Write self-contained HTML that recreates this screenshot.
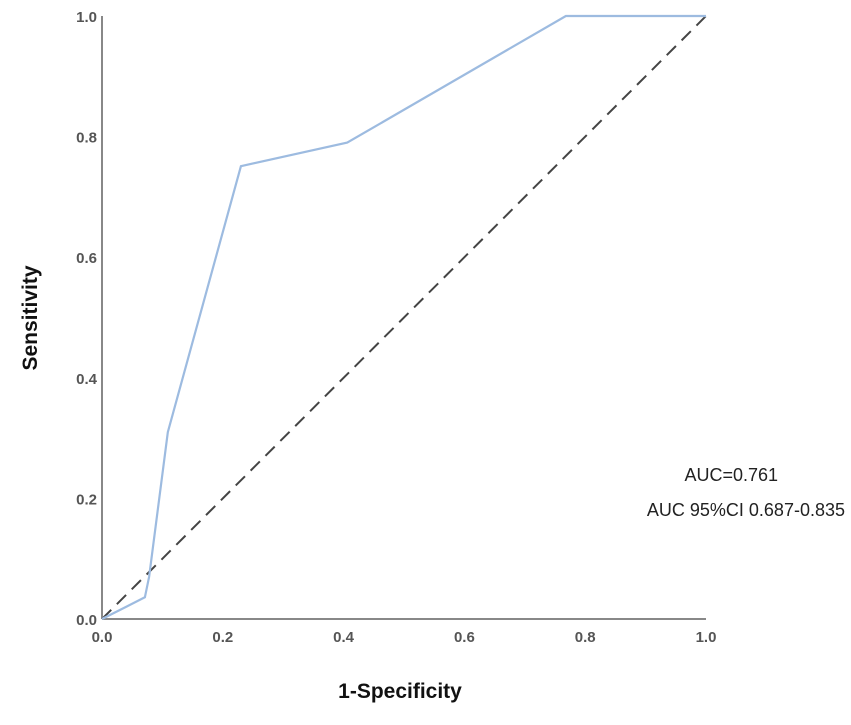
<!DOCTYPE html>
<html><head><meta charset="utf-8"><style>
body{margin:0;background:#fff;}
svg text{font-family:"Liberation Sans",sans-serif;}
</style></head><body>
<svg width="851" height="720">
<g id="g"></g>
</svg>
<script>
const fprValues=[0,0.071,0.078,0.109,0.23,0.406,0.768,1.0];
const tprValues=[0,0.036,0.07,0.31,0.751,0.79,1.0,1.0];
const ticks=[0,0.2,0.4,0.6,0.8,1.0];
const tickLabels=["0.0","0.2","0.4","0.6","0.8","1.0"];
const X0=102,X1=706,Y0=619,Y1=16;
const sx=v=>X0+v*(X1-X0), sy=v=>Y0-v*(Y0-Y1);
const g=document.getElementById('g');const NS='http://www.w3.org/2000/svg';
function mk(t,a,txt){const e=document.createElementNS(NS,t);for(const k in a)e.setAttribute(k,a[k]);if(txt!=null)e.textContent=txt;g.appendChild(e);return e;}
let e;
e=mk('line',{x1:X0,y1:Y1,x2:X0,y2:Y0,stroke:'#888','stroke-width':2});


e=mk('line',{x1:X0,y1:Y0,x2:X1,y2:Y0,stroke:'#888','stroke-width':2});


ticks.forEach((t,i)=>{
 e=mk('text',{x:X0-5,y:sy(t)+6,'text-anchor':'end','font-size':15,'font-weight':'bold',fill:'#555'},tickLabels[i]);
 
 
 e=mk('text',{x:sx(t),y:Y0+23,'text-anchor':'middle','font-size':15,'font-weight':'bold',fill:'#555'},tickLabels[i]);
 
 
});
e=mk('line',{x1:sx(0),y1:sy(0),x2:sx(1),y2:sy(1),stroke:'#444','stroke-width':2,'stroke-dasharray':'13,8'});


e=mk('polyline',{points:fprValues.map((v,i)=>sx(v)+','+sy(tprValues[i])).join(' '),fill:'none',stroke:'#9dbbe0','stroke-width':2.2});


e=mk('text',{x:400,y:698,'text-anchor':'middle','font-size':21,'font-weight':'bold',fill:'#111'},'1-Specificity');


e=mk('text',{x:0,y:0,'text-anchor':'middle','font-size':21,'font-weight':'bold',fill:'#111',transform:'translate(37,318) rotate(-90)'},'Sensitivity');


e=mk('text',{x:778,y:481,'text-anchor':'end','font-size':18,fill:'#222'},'AUC=0.761');


e=mk('text',{x:845,y:516,'text-anchor':'end','font-size':18,fill:'#222'},'AUC 95%CI 0.687-0.835');


</script>
</body></html>
